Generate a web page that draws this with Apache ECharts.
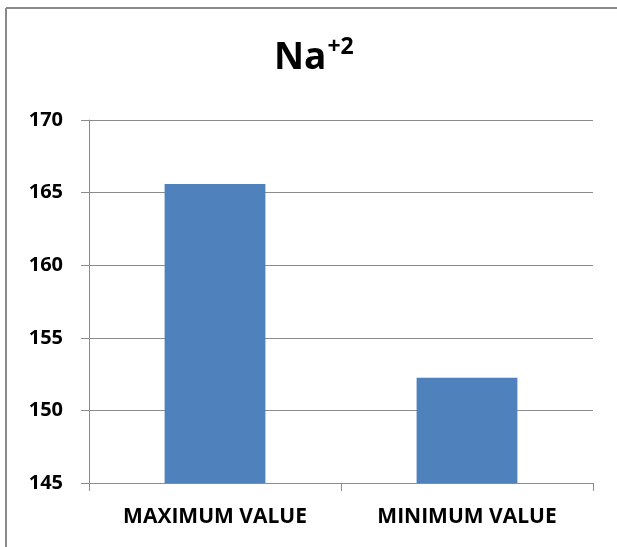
<!DOCTYPE html>
<html>
<head>
<meta charset="utf-8">
<script src="https://cdn.jsdelivr.net/npm/echarts@6/dist/echarts.min.js"></script>
<style>
  html, body { margin: 0; padding: 0; background: #fff; }
  #chart { width: 617px; height: 547px; }
</style>
</head>
<body>
<div id="chart"></div>
<script>
// Sodium ion range: category names and their bar values
const categories = ['MAXIMUM VALUE', 'MINIMUM VALUE'];
const values = [165.6, 152.25];
// Value axis range and step
const yMin = 145;
const yMax = 170;
const yStep = 5;

const FONT = '"Open Sans", sans-serif';
const GRID_COLOR = '#8c8c8c';

const chart = echarts.init(document.getElementById('chart'), null, { renderer: 'canvas' });

chart.setOption({
  animation: false,
  backgroundColor: '#ffffff',
  title: {
    text: '{a|Na}{b|+2}',
    left: 269,
    top: 31,
    textStyle: {
      rich: {
        a: { fontFamily: FONT, fontWeight: 'bold', fontSize: 37, color: '#000', lineHeight: 44 },
        b: { fontFamily: FONT, fontWeight: 'bold', fontSize: 23, color: '#000', verticalAlign: 'top', lineHeight: 44, padding: [0, 0, 16, 1] }
      }
    }
  },
  // frame edges on the top and left of the chart area
  graphic: [
    { type: 'line', shape: { x1: 6, y1: 8, x2: 617, y2: 8 }, style: { stroke: '#8a8a8a', lineWidth: 2 }, silent: true },
    { type: 'line', shape: { x1: 6, y1: 8, x2: 6, y2: 547 }, style: { stroke: '#8a8a8a', lineWidth: 2 }, silent: true }
  ],
  grid: { left: 89, right: 24, top: 120, bottom: 64, containLabel: false },
  xAxis: {
    type: 'category',
    data: categories,
    boundaryGap: true,
    axisLine: { show: true, lineStyle: { color: GRID_COLOR, width: 1 } },
    axisTick: { show: true, length: 8, alignWithLabel: false, lineStyle: { color: GRID_COLOR } },
    axisLabel: { margin: 24, color: '#000', fontFamily: FONT, fontWeight: 'bold', fontSize: 21 },
    splitLine: { show: false }
  },
  yAxis: {
    type: 'value',
    min: yMin,
    max: yMax,
    interval: yStep,
    axisLine: { show: true, lineStyle: { color: GRID_COLOR, width: 1 } },
    axisTick: { show: true, length: 8, lineStyle: { color: GRID_COLOR } },
    axisLabel: { margin: 26, color: '#000', fontFamily: FONT, fontWeight: 'bold', fontSize: 20 },
    splitLine: { show: true, lineStyle: { color: GRID_COLOR, width: 1 } }
  },
  series: [{
    type: 'bar',
    data: values,
    barWidth: '40%',
    itemStyle: { color: '#4f81bd' }
  }]
});
</script>
</body>
</html>
